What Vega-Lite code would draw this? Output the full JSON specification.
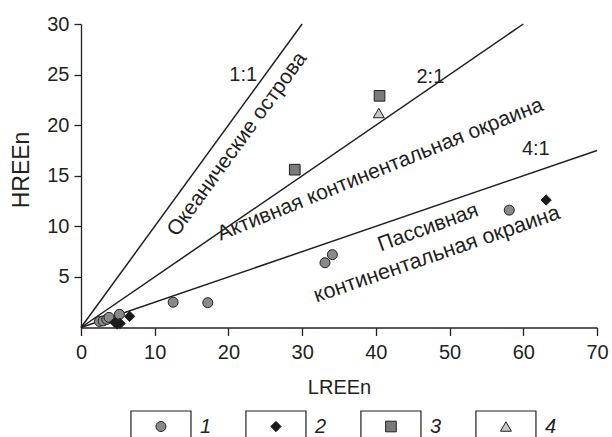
{
  "$schema": "https://vega.github.io/schema/vega-lite/v6.json",
  "padding": {"top": 14, "left": 10, "right": 4, "bottom": 0},
  "spacing": 12,
  "config": {
    "view": {"stroke": null},
    "font": "Liberation Sans",
    "text": {"font": "Liberation Sans", "color": "#231f20"},
    "axis": {
      "grid": false,
      "domainColor": "#231f20",
      "tickColor": "#231f20",
      "labelColor": "#231f20",
      "titleColor": "#231f20",
      "labelFont": "Liberation Sans",
      "titleFont": "Liberation Sans",
      "labelFontSize": 20,
      "titleFontSize": 20,
      "titleFontWeight": "normal",
      "domainWidth": 1.3,
      "tickWidth": 1.3
    }
  },
  "datasets": {
    "samples": [
      {"group": 1, "lree": 58.1, "hree": 11.6},
      {"group": 1, "lree": 33.1, "hree": 6.4},
      {"group": 1, "lree": 34.1, "hree": 7.2},
      {"group": 1, "lree": 12.5, "hree": 2.5},
      {"group": 1, "lree": 17.2, "hree": 2.45},
      {"group": 1, "lree": 2.5, "hree": 0.6},
      {"group": 1, "lree": 3.0, "hree": 0.65},
      {"group": 1, "lree": 3.5, "hree": 0.8},
      {"group": 1, "lree": 3.8, "hree": 1.0},
      {"group": 1, "lree": 5.2, "hree": 1.3},
      {"group": 2, "lree": 63.1, "hree": 12.6},
      {"group": 2, "lree": 6.6, "hree": 1.1},
      {"group": 2, "lree": 4.6, "hree": 0.5},
      {"group": 2, "lree": 4.9, "hree": 0.35},
      {"group": 2, "lree": 5.3, "hree": 0.4},
      {"group": 3, "lree": 29.0, "hree": 15.6},
      {"group": 3, "lree": 40.5, "hree": 22.9},
      {"group": 4, "lree": 40.4, "hree": 21.2}
    ],
    "ratios": [
      {"ratio": "1:1", "lree": 0, "hree": 0},
      {"ratio": "1:1", "lree": 30, "hree": 30},
      {"ratio": "2:1", "lree": 0, "hree": 0},
      {"ratio": "2:1", "lree": 60, "hree": 30},
      {"ratio": "4:1", "lree": 0, "hree": 0},
      {"ratio": "4:1", "lree": 70, "hree": 17.5}
    ],
    "legend": [
      {"group": 1, "label": "1"},
      {"group": 2, "label": "2"},
      {"group": 3, "label": "3"},
      {"group": 4, "label": "4"}
    ]
  },
  "vconcat": [
    {
      "width": 516,
      "height": 303.5,
      "encoding": {
        "x": {
          "field": "lree", "type": "quantitative",
          "scale": {"domain": [0, 70], "nice": false, "zero": true},
          "axis": {
            "title": "LREEn",
            "values": [0, 10, 20, 30, 40, 50, 60, 70],
            "tickSize": 8,
            "labelPadding": 7,
            "titlePadding": 15,
            "labelFlush": false,
            "labelOverlap": false,
            "encode": {
              "labels": {"update": {"dx": {"signal": "datum.value === 0 ? -18 : 0"}}},
              "ticks": {"update": {"opacity": {"signal": "datum.value === 0 ? 0 : 1"}}}
            }
          }
        },
        "y": {
          "field": "hree", "type": "quantitative",
          "scale": {"domain": [0, 30], "nice": false, "zero": true},
          "axis": {
            "title": "HREEn",
            "titleFontSize": 23,
            "titleY": 145.5,
            "values": [5, 10, 15, 20, 25, 30],
            "tickSize": 7,
            "labelPadding": 5,
            "titlePadding": 13,
            "labelFlush": false
          }
        }
      },
      "layer": [
        {
          "data": {"name": "ratios"},
          "mark": {"type": "line", "color": "#231f20", "strokeWidth": 1.5},
          "encoding": {"detail": {"field": "ratio"}}
        },
        {
          "data": {"name": "samples"},
          "mark": {"type": "point", "filled": true, "stroke": "#231f20", "strokeWidth": 1, "opacity": 1},
          "encoding": {
            "shape": {"field": "group", "type": "nominal", "scale": {"domain": [1, 2, 3, 4], "range": ["circle", "diamond", "square", "triangle-up"]}, "legend": null},
            "fill": {"field": "group", "type": "nominal", "scale": {"domain": [1, 2, 3, 4], "range": ["#8a8a8a", "#1a1a1a", "#7a7a7a", "#c8c8c8"]}, "legend": null},
            "size": {"field": "group", "type": "nominal", "scale": {"domain": [1, 2, 3, 4], "range": [100, 120, 80, 110]}, "legend": null}
          }
        },
        {
          "data": {"values": [
            {"lree": 22.0, "hree": 25.0, "label": "1:1"},
            {"lree": 47.4, "hree": 24.8, "label": "2:1"},
            {"lree": 61.7, "hree": 17.6, "label": "4:1"}
          ]},
          "mark": {"type": "text", "fontSize": 20, "align": "center", "baseline": "middle"},
          "encoding": {"text": {"field": "label"}}
        },
        {
          "data": {"values": [{"lree": 21.2, "hree": 18.1, "label": "Океанические острова"}]},
          "mark": {"type": "text", "fontSize": 21, "angle": 306, "align": "center", "baseline": "middle"},
          "encoding": {"text": {"field": "label"}}
        },
        {
          "data": {"values": [{"lree": 40.6, "hree": 15.6, "label": "Активная континентальная окраина"}]},
          "mark": {"type": "text", "fontSize": 21, "angle": 338, "align": "center", "baseline": "middle"},
          "encoding": {"text": {"field": "label"}}
        },
        {
          "data": {"values": [{"lree": 47.1, "hree": 9.85, "label": "Пассивная"}]},
          "mark": {"type": "text", "fontSize": 21, "angle": 340, "align": "center", "baseline": "middle"},
          "encoding": {"text": {"field": "label"}}
        },
        {
          "data": {"values": [{"lree": 48.3, "hree": 7.2, "label": "континентальная окраина"}]},
          "mark": {"type": "text", "fontSize": 21.5, "angle": 341, "align": "center", "baseline": "middle"},
          "encoding": {"text": {"field": "label"}}
        }
      ]
    },
    {
      "width": 516,
      "height": 33,
      "data": {"name": "legend"},
      "encoding": {
        "x": {
          "field": "group", "type": "ordinal",
          "scale": {"type": "band", "paddingInner": 0.478, "paddingOuter": 0.4826, "align": 0.45},
          "axis": null
        }
      },
      "layer": [
        {
          "mark": {"type": "rect", "fill": null, "stroke": "#231f20", "strokeWidth": 1.2, "clip": true},
          "encoding": {"y": {"value": 1}, "y2": {"value": 60}}
        },
        {
          "mark": {"type": "point", "filled": true, "stroke": "#231f20", "strokeWidth": 1, "opacity": 1},
          "encoding": {
            "shape": {"field": "group", "type": "nominal", "scale": {"domain": [1, 2, 3, 4], "range": ["circle", "diamond", "square", "triangle-up"]}, "legend": null},
            "fill": {"field": "group", "type": "nominal", "scale": {"domain": [1, 2, 3, 4], "range": ["#8a8a8a", "#1a1a1a", "#7a7a7a", "#c8c8c8"]}, "legend": null},
            "size": {"field": "group", "type": "nominal", "scale": {"domain": [1, 2, 3, 4], "range": [100, 120, 80, 110]}, "legend": null}
          }
        },
        {
          "mark": {"type": "text", "fontSize": 20, "fontStyle": "italic", "align": "left", "baseline": "middle", "dx": 9},
          "encoding": {
            "x": {"field": "group", "type": "ordinal", "bandPosition": 1},
            "text": {"field": "label"}
          }
        }
      ]
    }
  ]
}
